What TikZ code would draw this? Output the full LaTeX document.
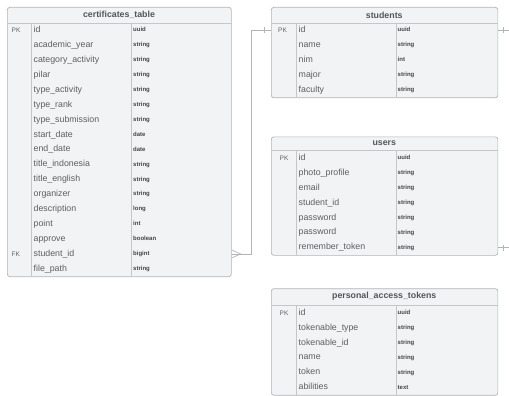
\documentclass[tikz,border=0pt]{standalone}
\usepackage{fontspec}
\setmainfont{Liberation Sans}
\usepackage{xcolor}
\definecolor{tablefill}{HTML}{F1F3F5}
\definecolor{linegray}{HTML}{B2B4B8}
\definecolor{rulegray}{HTML}{C4C6CA}
\definecolor{textgray}{HTML}{5E5E5E}
\definecolor{typegray}{HTML}{444444}

\begin{document}
\begin{tikzpicture}[x=1pt, y=-1pt,
    tablebox/.style={draw=linegray, fill=tablefill, rounded corners=2.5pt, line width=0.7pt, anchor=north west, inner sep=0pt},
    rule/.style={draw=rulegray, line width=0.7pt},
    title/.style={font=\fontsize{8.8}{10}\selectfont\bfseries, text=textgray!90!black, inner sep=0pt},
    field/.style={font=\fontsize{8.8}{10}\selectfont, text=textgray, anchor=west, inner sep=0pt, text height=6.3pt, text depth=1.8pt},
    ftype/.style={font=\fontsize{6}{7}\selectfont\bfseries, text=typegray, anchor=west, inner sep=0pt, text height=4.4pt, text depth=1.3pt},
    key/.style={font=\fontsize{6.5}{7}\selectfont, text=textgray, anchor=west, inner sep=0pt, text height=4.6pt, text depth=0pt},
    rel/.style={draw=linegray, line width=0.7pt}]
    \useasboundingbox (0,0) rectangle (509,396);

    % certificates_table
    \node[tablebox, minimum width=224pt, minimum height=269.3pt] (cert) at (7,7) {};
    \draw[rule] (7,23) -- (231,23);
    \draw[rule] (31,23) -- (31,276.3);
    \draw[rule] (131.7,23) -- (131.7,276.3);
    \node[title] (cert-title) at (119,15) {certificates\_table};
    \foreach \name/\type [count=\i] in {id/uuid, academic\_year/string, category\_activity/string,
        pilar/string, type\_activity/string, type\_rank/string, type\_submission/string,
        start\_date/date, end\_date/date, title\_indonesia/string, title\_english/string,
        organizer/string, description/long, point/int, approve/boolean, student\_id/bigint,
        file\_path/string} {
      \node[field] (cert-f\i) at (33.5,{23+14.9*(\i-0.5)}) {\name};
      \node[ftype] (cert-t\i) at (133,{23+14.9*(\i-0.5)}) {\type};
    }
    \node[key] (cert-pk) at (11.5,30.45) {PK};
    \node[key] (cert-fk) at (11.5,253.95) {FK};

    % students
    \node[tablebox, minimum width=226.5pt, minimum height=90.5pt] (stud) at (271,7) {};
    \draw[rule] (271,23) -- (497.5,23);
    \draw[rule] (296,23) -- (296,97.5);
    \draw[rule] (396,23) -- (396,97.5);
    \node[title] (stud-title) at (384.25,15) {students};
    \foreach \name/\type [count=\i] in {id/uuid, name/string, nim/int, major/string, faculty/string} {
      \node[field] (stud-f\i) at (298.5,{23+14.9*(\i-0.5)}) {\name};
      \node[ftype] (stud-t\i) at (397.5,{23+14.9*(\i-0.5)}) {\type};
    }
    \node[key] (stud-pk) at (278,30.45) {PK};

    % users
    \node[tablebox, minimum width=226.5pt, minimum height=118.5pt] (user) at (271,136.5) {};
    \draw[rule] (271,150.7) -- (497.5,150.7);
    \draw[rule] (296,150.7) -- (296,255);
    \draw[rule] (396,150.7) -- (396,255);
    \node[title] (user-title) at (384.25,143.4) {users};
    \foreach \name/\type [count=\i] in {id/uuid, photo\_profile/string, email/string,
        student\_id/string, password/string, password/string, remember\_token/string} {
      \node[field] (user-f\i) at (298.5,{150.7+14.9*(\i-0.5)}) {\name};
      \node[ftype] (user-t\i) at (397.5,{150.7+14.9*(\i-0.5)}) {\type};
    }
    \node[key] (user-pk) at (279.5,158.15) {PK};

    % personal_access_tokens
    \node[tablebox, minimum width=226.5pt, minimum height=106.6pt] (pat) at (271,288.3) {};
    \draw[rule] (271,305.5) -- (497.5,305.5);
    \draw[rule] (296,305.5) -- (296,394.9);
    \draw[rule] (396,305.5) -- (396,394.9);
    \node[title] (pat-title) at (384.25,296.6) {personal\_access\_tokens};
    \foreach \name/\type [count=\i] in {id/uuid, tokenable\_type/string, tokenable\_id/string,
        name/string, token/string, abilities/text} {
      \node[field] (pat-f\i) at (298.5,{305.5+14.9*(\i-0.5)}) {\name};
      \node[ftype] (pat-t\i) at (397.5,{305.5+14.9*(\i-0.5)}) {\type};
    }
    \node[key] (pat-pk) at (279.5,312.95) {PK};

    % relations
    \coordinate (fk) at (cert.east |- cert-f16);
    \coordinate (sid) at (stud.west |- stud-f1);
    \coordinate (bend) at (251.5,30.45);
    \draw[rel] (fk) -| (bend) -- (sid);
    \draw[rel] ([yshift=4pt]fk) -- ([xshift=9pt]fk) -- ([yshift=-4pt]fk);
    \draw[rel] ([xshift=-7pt,yshift=3pt]sid) -- ([xshift=-7pt,yshift=-3pt]sid);

    \coordinate (sout) at (stud.east |- stud-f1);
    \coordinate (sout-end) at (509,30.45);
    \draw[rel] (sout) -- (sout-end);
    \draw[rel] ([xshift=5.5pt,yshift=3pt]sout) -- ([xshift=5.5pt,yshift=-3pt]sout);

    \coordinate (uout) at (user.east |- user-f7);
    \coordinate (uout-end) at (509,247.5);
    \draw[rel] (uout) -- (uout-end);
    \draw[rel] ([xshift=5.5pt,yshift=3pt]uout) -- ([xshift=5.5pt,yshift=-3pt]uout);
\end{tikzpicture}
\end{document}
